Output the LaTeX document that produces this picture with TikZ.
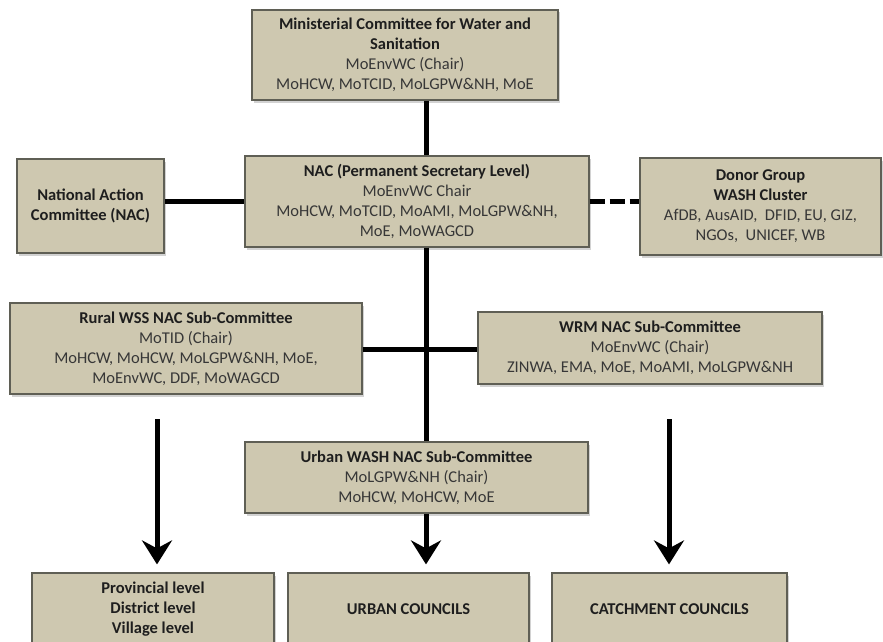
\documentclass[tikz,border=0pt]{standalone}
\usepackage{fontspec}
\setmainfont{Carlito}
\usetikzlibrary{arrows.meta,shadows}
\definecolor{boxfill}{RGB}{206,200,176}
\definecolor{boxline}{RGB}{95,95,85}
\definecolor{txt}{RGB}{55,55,55}
\definecolor{txtb}{RGB}{30,30,30}
\tikzset{
  orgbox/.style={draw=boxline, line width=1.2pt, fill=boxfill, inner sep=0pt,
    align=center, text=txt,
    font=\fontsize{16.5}{20}\selectfont,
    drop shadow={opacity=0.35, shadow xshift=2pt, shadow yshift=-2.5pt}},
  conn/.style={line width=5pt, black},
  dashconn/.style={line width=5pt, black, dash pattern=on 15pt off 5pt},
  arr/.style={line width=5pt, black, -{Stealth[length=24pt,width=30pt,inset=8pt]}, shorten >=8pt},
}
\newcommand{\hd}[1]{\textbf{\color{txtb}#1}}
\begin{document}
\begin{tikzpicture}[x=1pt,y=-1pt]
\useasboundingbox[fill=white] (0,0) rectangle (883,642);
% boxes: center at ((x1+x2)/2,(y1+y2)/2), size (x2-x1)x(y2-y1)
\node[orgbox, minimum width=306pt, minimum height=90pt] (top) at (405,55)
  {\hd{Ministerial Committee for Water and}\\ \hd{Sanitation}\\ MoEnvWC (Chair)\\ MoHCW, MoTCID, MoLGPW\&NH, MoE};
\node[orgbox, minimum width=344pt, minimum height=91pt] (nac) at (417,201.5)
  {\hd{NAC (Permanent Secretary Level)}\\ MoEnvWC Chair\\ MoHCW, MoTCID, MoAMI, MoLGPW\&NH,\\ MoE, MoWAGCD};
\node[orgbox, minimum width=147pt, minimum height=94pt] (nacl) at (90.5,206)
  {\hd{National Action}\\ \hd{Committee (NAC)}};
\node[orgbox, minimum width=241pt, minimum height=97pt] (donor) at (760.5,206.5)
  {\hd{Donor Group}\\ \hd{WASH Cluster}\\ AfDB, AusAID,\ \ DFID, EU, GIZ,\\ NGOs,\ \ UNICEF, WB};
\node[orgbox, minimum width=352pt, minimum height=91pt] (rural) at (186,348.5)
  {\hd{Rural WSS NAC Sub-Committee}\\ MoTID (Chair)\\ MoHCW, MoHCW, MoLGPW\&NH, MoE,\\ MoEnvWC, DDF, MoWAGCD};
\node[orgbox, minimum width=344pt, minimum height=72pt] (wrm) at (650,348)
  {\hd{WRM NAC Sub-Committee}\\ MoEnvWC (Chair)\\ ZINWA, EMA, MoE, MoAMI, MoLGPW\&NH};
\node[orgbox, minimum width=343pt, minimum height=71pt] (urban) at (416.5,477.5)
  {\hd{Urban WASH NAC Sub-Committee}\\ MoLGPW\&NH (Chair)\\ MoHCW, MoHCW, MoE};
\node[orgbox, minimum width=242pt, minimum height=72pt] (prov) at (153,609)
  {\hd{Provincial level}\\ \hd{District level}\\ \hd{Village level}};
\node[orgbox, minimum width=241pt, minimum height=72pt] (uc) at (408.5,609)
  {\hd{URBAN COUNCILS}};
\node[orgbox, minimum width=235pt, minimum height=72pt] (cc) at (669.5,609)
  {\hd{CATCHMENT COUNCILS}};
% helper coordinates
\coordinate (cx) at (426,0);
\coordinate (hy) at (0,349);
\coordinate (la) at (157,419);
\coordinate (ra) at (669,419);
% connectors
\draw[conn] (top.south -| cx) -- (nac.north -| cx);
\draw[conn] (nacl.east |- nac.west) -- (nac.west);
\draw[dashconn] (nac.east) -- (donor.west |- nac.east);
\draw[conn] (nac.south -| cx) -- (urban.north -| cx);
\draw[conn] (rural.east |- hy) -- (wrm.west |- hy);
\draw[arr] (la) -- (la |- prov.north);
\draw[arr] (urban.south -| cx) -- (uc.north -| cx);
\draw[arr] (ra) -- (ra |- cc.north);
\end{tikzpicture}
\end{document}
